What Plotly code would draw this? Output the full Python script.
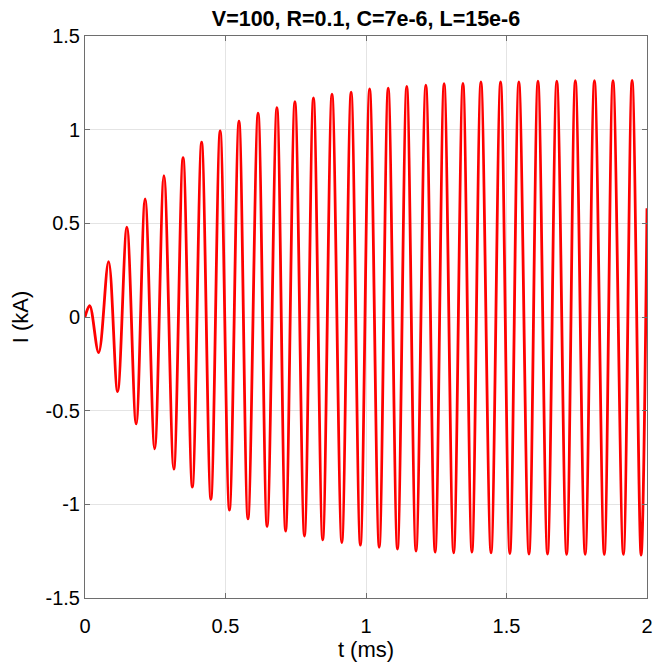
import plotly.graph_objects as go

# Values (time in ms, current in kA)
start_t = [0.0]
start_v = [0.0]

peak_t = [0.0166, 0.084, 0.149, 0.214, 0.281, 0.349, 0.415, 0.481, 0.548, 0.616,
          0.683, 0.747, 0.813, 0.879, 0.947, 1.013, 1.079, 1.145, 1.213, 1.278,
          1.345, 1.409, 1.479, 1.544, 1.612, 1.679, 1.745, 1.813, 1.879, 1.947]
peak_v = [0.061, 0.296, 0.48, 0.63, 0.755, 0.851, 0.933, 0.994, 1.045, 1.088,
          1.118, 1.149, 1.169, 1.19, 1.20, 1.218, 1.222, 1.231, 1.237, 1.245,
          1.247, 1.255, 1.255, 1.255, 1.259, 1.259, 1.261, 1.261, 1.261, 1.263]

trough_t = [0.0485, 0.116, 0.182, 0.248, 0.316, 0.382, 0.448, 0.514, 0.580, 0.648,
            0.714, 0.781, 0.846, 0.914, 0.980, 1.047, 1.112, 1.178, 1.246, 1.312,
            1.377, 1.445, 1.512, 1.580, 1.646, 1.714, 1.780, 1.848, 1.916, 1.979]
trough_v = [-0.19, -0.398, -0.571, -0.704, -0.812, -0.908, -0.973, -1.031, -1.078, -1.118,
            -1.143, -1.169, -1.19, -1.204, -1.218, -1.229, -1.239, -1.249, -1.255, -1.259,
            -1.255, -1.259, -1.263, -1.265, -1.265, -1.267, -1.267, -1.267, -1.267, -1.271]

end_t = [2.0]
end_v = [0.58]

x_ticks = [0, 0.5, 1, 1.5, 2]
x_tick_labels = ["0", "0.5", "1", "1.5", "2"]
y_ticks = [-1.5, -1, -0.5, 0, 0.5, 1, 1.5]
y_tick_labels = ["-1.5", "-1", "-0.5", "0", "0.5", "1", "1.5"]

# interleave extrema in time order
t_all = list(start_t)
v_all = list(start_v)
for pt, pv, tt, tv in zip(peak_t, peak_v, trough_t, trough_v):
    t_all += [pt, tt]
    v_all += [pv, tv]
t_all += end_t
v_all += end_v

FONT = "Liberation Sans, Arial, Helvetica, sans-serif"

fig = go.Figure()
fig.add_trace(go.Scatter(
    x=t_all, y=v_all, mode="lines",
    line=dict(color="#ff0000", width=2.8, shape="spline", smoothing=1.0),
    showlegend=False, hoverinfo="skip",
))

axis_common = dict(
    showgrid=True, gridcolor="#e4e4e4", gridwidth=1,
    showline=True, linecolor="#6e6e6e", linewidth=1, mirror="ticks",
    ticks="inside", ticklen=5, tickcolor="#6e6e6e", tickwidth=1,
    zeroline=False,
    tickfont=dict(family=FONT, size=20, color="#000000"),
)

fig.update_layout(
    width=662, height=663,
    margin=dict(l=75, r=23, t=28, b=73),
    paper_bgcolor="white", plot_bgcolor="white",
    title=dict(
        text="<b>V=100, R=0.1, C=7e-6, L=15e-6</b>",
        xref="paper", x=0.5, xanchor="center",
        yref="container", y=1 - 10 / 663, yanchor="middle",
        font=dict(family=FONT, size=21.5, color="#000000"),
    ),
    xaxis=dict(
        range=[0, 2], tickvals=x_ticks, ticktext=x_tick_labels,
        ticklabelstandoff=10,
        title=dict(text="t (ms)", font=dict(family=FONT, size=22, color="#000000"), standoff=4),
        **axis_common,
    ),
    yaxis=dict(
        range=[-1.5, 1.5], tickvals=y_ticks, ticktext=y_tick_labels,
        title=dict(text="I (kA)", font=dict(family=FONT, size=22, color="#000000"), standoff=10),
        **axis_common,
    ),
)

fig.write_html("out.html")
